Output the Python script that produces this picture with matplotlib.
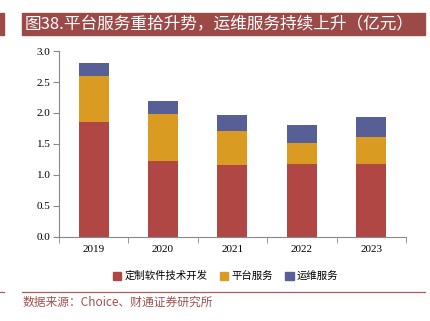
import matplotlib.pyplot as plt
import numpy as np
from matplotlib.patches import Rectangle
from matplotlib.lines import Line2D

years = ["2019", "2020", "2021", "2022", "2023"]
custom_dev = [1.86, 1.22, 1.16, 1.18, 1.18]
platform = [0.73, 0.76, 0.55, 0.34, 0.44]
maintenance = [0.21, 0.21, 0.26, 0.29, 0.31]
series_names = ["定制软件技术开发", "平台服务", "运维服务"]
colors = ["#B04745", "#DA9B22", "#585F96"]

title = "图38.平台服务重拾升势，运维服务持续上升（亿元）"
source = "数据来源：Choice、财通证券研究所"

cjk = ["Noto Sans CJK SC", "DejaVu Sans"]
serif = "Liberation Serif"

fig = plt.figure(figsize=(4.30, 3.21), dpi=100)
ax = fig.add_axes([0.137, 0.262, 0.807, 0.579])

x = np.arange(len(years))
bottom = np.zeros(len(years))
for vals, c in zip([custom_dev, platform, maintenance], colors):
    ax.bar(x, vals, width=0.43, bottom=bottom, color=c, edgecolor="none")
    bottom += np.array(vals)

ax.set_xlim(-0.5, len(years) - 0.5)
ax.set_ylim(0, 3.0)
ax.set_yticks(np.arange(0, 3.01, 0.5))
ax.set_yticklabels([f"{v:.1f}" for v in np.arange(0, 3.01, 0.5)],
                   fontfamily=serif, fontsize=8)
ax.set_xticks(x)
ax.set_xticklabels(years, fontfamily=serif, fontsize=8)
ax.set_xticks(np.arange(-0.5, len(years)), minor=True)
ax.tick_params(axis="x", which="major", length=0, pad=6)
ax.tick_params(axis="x", which="minor", length=4, color="#888888")
ax.tick_params(axis="y", length=4, color="#888888", pad=2)
for s in ["top", "right"]:
    ax.spines[s].set_visible(False)
for s in ["left", "bottom"]:
    ax.spines[s].set_color("#888888")

handles = [Rectangle((0, 0), 1, 1, color=c) for c in colors]
fig.legend(handles, series_names, loc="center", bbox_to_anchor=(0.525, 0.14),
           ncol=3, frameon=False, prop={"family": cjk, "size": 7.5},
           handlelength=0.8, handleheight=0.8, handletextpad=0.3,
           columnspacing=1.2)

# title banner
fig.patches.append(Rectangle((0.051, 0.891), 0.937, 0.069,
                             transform=fig.transFigure, color="#9C4A48"))
fig.patches.append(Rectangle((0.0, 0.891), 0.009, 0.069,
                             transform=fig.transFigure, color="#9C4A48"))
fig.text(0.058, 0.925, title, family=cjk, fontsize=12, color="white",
         va="center", ha="left")

# footer rule and source note
fig.lines.append(Line2D([0.051, 0.988], [0.09, 0.09], transform=fig.transFigure,
                        color="#B05C5A", lw=0.9))
fig.lines.append(Line2D([0.0, 0.009], [0.09, 0.09], transform=fig.transFigure,
                        color="#B05C5A", lw=0.9))
fig.text(0.053, 0.058, source, family=cjk, fontsize=8.5, color="#A0504E",
         va="center", ha="left")

fig.savefig("out.png", dpi=100)
